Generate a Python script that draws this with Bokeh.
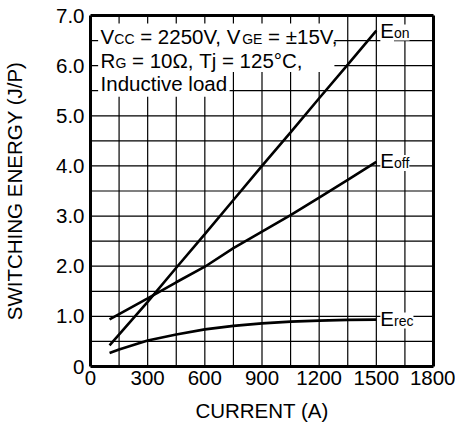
import math
from bokeh.plotting import figure
from bokeh.models import Range1d, FixedTicker, Label, LinearAxis, BoxAnnotation
from bokeh.embed import file_html
from bokeh.resources import INLINE

# ---- data ----
current_eon = [100, 300, 450, 600, 750, 900, 1050, 1200, 1350, 1500]
e_on = [0.42, 1.29, 1.97, 2.64, 3.32, 4.00, 4.67, 5.35, 6.02, 6.70]

current_eoff = [100, 300, 450, 600, 750, 900, 1050, 1200, 1350, 1500]
e_off = [0.94, 1.36, 1.68, 1.99, 2.36, 2.69, 3.02, 3.37, 3.72, 4.08]

current_erec = [100, 150, 300, 450, 600, 750, 900, 1050, 1200, 1350, 1500]
e_rec = [0.27, 0.34, 0.52, 0.64, 0.74, 0.81, 0.86, 0.895, 0.915, 0.93, 0.935]

x_ticks = [0, 300, 600, 900, 1200, 1500, 1800]
x_tick_labels = ["0", "300", "600", "900", "1200", "1500", "1800"]
x_minor = [150 * i for i in range(13)]
y_ticks = [0, 1, 2, 3, 4, 5, 6, 7]
y_tick_labels = ["0", "1.0", "2.0", "3.0", "4.0", "5.0", "6.0", "7.0"]
y_minor = [0.5 * i for i in range(15)]
X_LO, X_HI = 0, 1800
Y_LO, Y_HI = 0, 7

FONT = "Liberation Sans"
BIG = 20.5
SMALL = 14

# Arial-compatible advance widths (per 1000 em)
W = {"V": 667, "C": 722, " ": 278, "=": 584, "0": 556, "1": 556, "2": 556, "5": 556,
     ",": 278, "G": 778, "E": 667, "±": 584, "R": 722, "Ω": 768, "T": 611, "j": 222,
     "°": 400, "I": 278, "n": 556, "d": 556, "u": 556, "c": 500, "t": 278, "i": 222,
     "v": 500, "e": 556, "l": 222, "o": 556, "a": 556, "f": 278, "r": 333}
DESCENT = 0.212


def text_width(s, size):
    return sum(W.get(ch, 556) for ch in s) * size / 1000.0


p = figure(width=455, height=427, output_backend="svg", toolbar_location=None,
           x_range=Range1d(X_LO, X_HI), y_range=Range1d(Y_LO, Y_HI),
           min_border_left=85, min_border_right=22, min_border_top=15, min_border_bottom=61)
p.outline_line_color = None
p.grid.visible = False

# frame drawn by axes on all four sides
p.add_layout(LinearAxis(ticker=FixedTicker(ticks=[])), "above")
p.add_layout(LinearAxis(ticker=FixedTicker(ticks=[])), "right")

for ax in p.axis:
    ax.axis_line_color = "black"
    ax.axis_line_width = 3
    ax.major_tick_line_color = None
    ax.minor_tick_line_color = None
    ax.major_tick_out = 0
    ax.major_tick_in = 0
    ax.minor_tick_out = 0
    ax.minor_tick_in = 0
    ax.major_label_standoff = 0
    ax.major_label_text_font = FONT
    ax.major_label_text_font_size = f"{BIG}px"
    ax.major_label_text_color = "black"
    ax.axis_label_text_font = FONT
    ax.axis_label_text_font_size = f"{BIG}px"
    ax.axis_label_text_font_style = "normal"
    ax.axis_label_text_color = "black"

bottom_ax = p.below[0]
left_ax = p.left[0]
bottom_ax.ticker = FixedTicker(ticks=x_ticks)
left_ax.ticker = FixedTicker(ticks=y_ticks)
bottom_ax.major_label_overrides = {t: l for t, l in zip(x_ticks, x_tick_labels)}
left_ax.major_label_overrides = {t: l for t, l in zip(y_ticks, y_tick_labels)}
bottom_ax.axis_label = "CURRENT (A)"
left_ax.axis_label = "SWITCHING ENERGY (J/P)"
bottom_ax.major_label_standoff = 4
left_ax.major_label_standoff = 6
bottom_ax.axis_label_standoff = 11
left_ax.axis_label_standoff = 27

# grid lines at every minor step (150 A, 0.5 J/P), drawn as broken polylines
gx, gy = [], []
for xv in x_minor:
    gx += [xv, xv, math.nan]
    gy += [Y_LO, Y_HI, math.nan]
for yv in y_minor:
    gx += [X_LO, X_HI, math.nan]
    gy += [yv, yv, math.nan]
p.line(gx, gy, line_color="black", line_width=1.2)

p.line(current_eon, e_on, line_color="black", line_width=2.6)
p.line(current_eoff, e_off, line_color="black", line_width=2.6)
p.line(current_erec, e_rec, line_color="black", line_width=2.6)

# white backing for the condition note (covers grid lines)
NOTE_BOXES = [(40, 1280, 5.875, 6.84), (40, 730, 5.38, 5.875)]
for l, r, b, t in NOTE_BOXES:
    p.add_layout(BoxAnnotation(left=l, right=r, bottom=b, top=t, fill_color="white",
                               fill_alpha=1, line_color=None))


def add_segments(x, y, segments, x0=0.0, y_off=0.0, bg=None):
    off = x0
    for s, size in segments:
        stripped = s.lstrip(" ")
        off += text_width(s[: len(s) - len(stripped)], size)
        kw = {}
        if bg:
            kw = dict(background_fill_color=bg)
        p.add_layout(Label(x=x, y=y, x_offset=off, y_offset=y_off - DESCENT * size, text=stripped,
                           text_font=FONT, text_font_size=f"{size}px", text_color="black",
                           text_baseline="bottom", text_align="left", **kw))
        off += text_width(stripped, size)


note_lines = [
    [("V", BIG), ("CC", SMALL), (" = 2250V, V", BIG), ("GE", SMALL), (" = ±15V,", BIG)],
    [("R", BIG), ("G", SMALL), (" = 10Ω, Tj = 125°C,", BIG)],
    [("Inductive load", BIG)],
]
note_baselines = [6.44, 5.955, 5.51]
for segs, yb in zip(note_lines, note_baselines):
    add_segments(53, yb, segs)

# curve labels at the line ends
add_segments(current_eon[-1], e_on[-1], [("E", BIG), ("on", SMALL)], x0=4, y_off=-7, bg="white")
add_segments(current_eoff[-1], e_off[-1], [("E", BIG), ("off", SMALL)], x0=4, y_off=-6, bg="white")
add_segments(current_erec[-1], e_rec[-1], [("E", BIG), ("rec", SMALL)], x0=4, y_off=-6, bg="white")

open("out.html", "w").write(file_html(p, INLINE))
